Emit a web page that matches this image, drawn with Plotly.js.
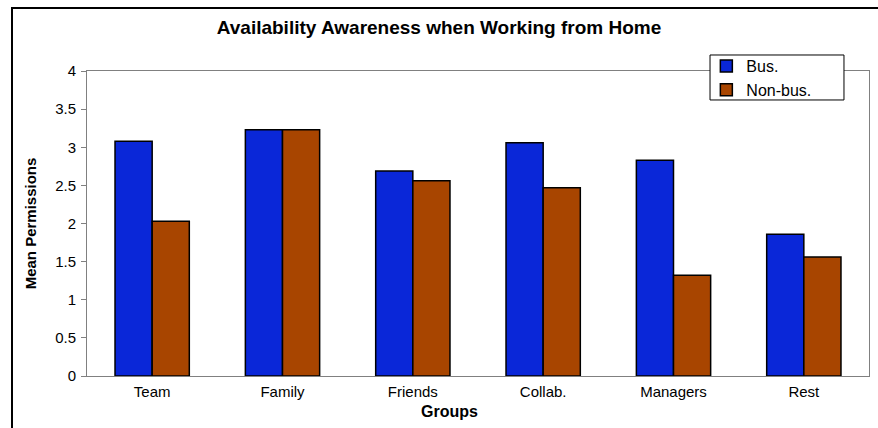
<!DOCTYPE html>
<html>
<head>
<meta charset="utf-8">
<script src="https://cdn.plot.ly/plotly-3.0.1.min.js"></script>
<style>
body{margin:0;padding:0;background:#fff;}
#wrap{position:relative;width:878px;height:428px;overflow:hidden;}
#chart{position:absolute;left:0;top:0;width:878px;height:428px;}
#frame{position:absolute;left:11px;top:7px;width:900px;height:500px;border:2px solid #000;pointer-events:none;}
</style>
</head>
<body>
<div id="wrap"><div id="chart"></div><div id="frame"></div></div>
<script>
const categories = ["Team", "Family", "Friends", "Collab.", "Managers", "Rest"];
const busValues = [3.08, 3.23, 2.69, 3.06, 2.83, 1.86];
const nonBusValues = [2.03, 3.23, 2.56, 2.47, 1.32, 1.56];
const seriesNames = ["Bus.", "Non-bus."];
const yTickValues = [0, 0.5, 1, 1.5, 2, 2.5, 3, 3.5, 4];
const yTickLabels = ["0", "0.5", "1", "1.5", "2", "2.5", "3", "3.5", "4"];

const font = "Arial, 'Liberation Sans', sans-serif";
const traces = [
  {type:'bar', name:seriesNames[0], x:categories, y:busValues,
   marker:{color:'#0a27d8', line:{color:'#000', width:1.5}}},
  {type:'bar', name:seriesNames[1], x:categories, y:nonBusValues,
   marker:{color:'#a84500', line:{color:'#000', width:1.5}}}
];
const layout = {
  width:878, height:428,
  margin:{l:87, r:9, t:71, b:52},
  paper_bgcolor:'#fff', plot_bgcolor:'#fff',
  font:{family:font, color:'#000', size:15},
  barmode:'group', bargap:0.43, bargroupgap:0,
  title:{text:'<b>Availability Awareness when Working from Home</b>', x:0.5, xanchor:'center', y:0.935, yanchor:'middle', font:{size:19, family:font}},
  showlegend:true,
  legend:{x:0.792, y:1.072, xanchor:'left', yanchor:'top', bgcolor:'rgba(0,0,0,0)', borderwidth:0,
          font:{size:16, family:font}, itemwidth:30, tracegroupgap:0},
  shapes:[{type:'rect', xref:'paper', yref:'paper', x0:0.7967, x1:0.968, y0:0.905, y1:1.0525,
           fillcolor:'#fff', line:{color:'#000', width:1}, layer:'above'}],
  annotations:[{text:'<b>Groups</b>', xref:'paper', yref:'paper', x:0.464, y:-0.118, xanchor:'center', yanchor:'middle',
                showarrow:false, font:{size:16, family:font, color:'#000'}}],
  xaxis:{type:'category', showgrid:false, showline:true, linecolor:'#808080', linewidth:1, mirror:true,
         ticks:'', tickfont:{size:15}, automargin:false, ticklabelstandoff:2},
  yaxis:{range:[0,4], tickvals:yTickValues, ticktext:yTickLabels, showgrid:false, zeroline:false,
         showline:true, linecolor:'#808080', linewidth:1, mirror:true,
         ticks:'outside', ticklen:5, tickcolor:'#808080', tickfont:{size:15}, automargin:false, ticklabelstandoff:2,
         title:{text:'<b>Mean Permissions</b>', font:{size:15}, standoff:14}}
};
Plotly.newPlot('chart', traces, layout, {displayModeBar:false, staticPlot:true});
</script>
</body>
</html>
